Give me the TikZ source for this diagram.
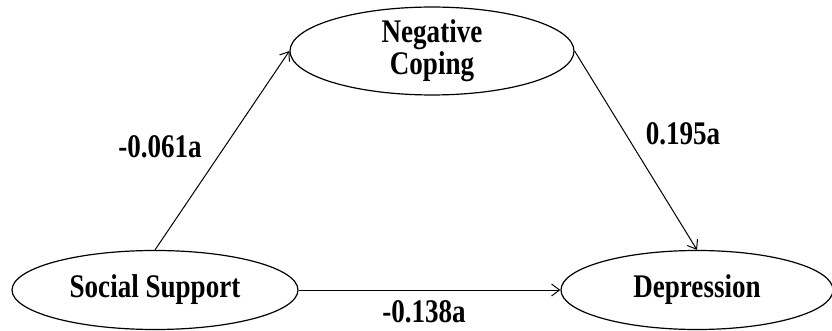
\documentclass[tikz,border=0pt]{standalone}
\usepackage{fontspec}
\setmainfont{Liberation Serif}
\newfontfamily\condserif[FakeStretch=0.82]{Liberation Serif}
\usetikzlibrary{shapes.geometric,arrows.meta}
\begin{document}
\begin{tikzpicture}[x=1pt,y=-1pt,
  var/.style={draw,ellipse,line width=1.2pt,inner sep=0pt,font=\condserif\bfseries\fontsize{33}{33}\selectfont,align=center},
  path/.style={line width=1pt,-{Straight Barb[length=8pt,width=12pt,line width=1pt]}},
  lab/.style={font=\condserif\bfseries\fontsize{33}{33}\selectfont}]
\useasboundingbox (0,0) rectangle (832,331);
\node[var,minimum width=284pt,minimum height=80pt] (nc) at (432,51) {Negative\\[-1pt]Coping};
\node[var,minimum width=286pt,minimum height=79pt] (ss) at (155,290) {Social Support};
\node[var,minimum width=272pt,minimum height=79pt] (dep) at (697,290) {Depression};
\draw[path] (ss.north) -- (nc.west);
\draw[path] (nc.east) -- (dep.north);
\draw[path] (ss.east) -- (dep.west);
\node[lab] (l1) at (160,147) {-0.061a};
\node[lab] (l2) at (683,134) {0.195a};
\node[lab] (l3) at (424,312) {-0.138a};
\end{tikzpicture}
\end{document}
